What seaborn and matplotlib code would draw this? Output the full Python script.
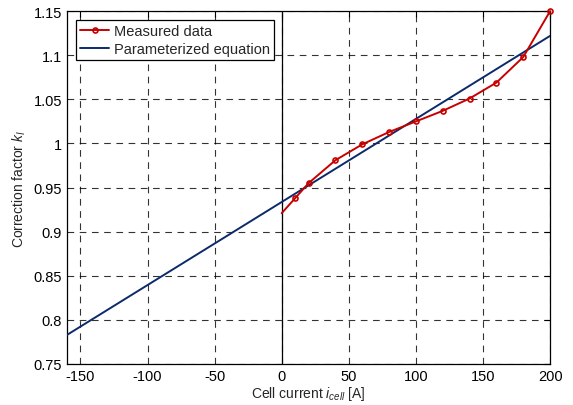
import numpy as np
import pandas as pd
import matplotlib
matplotlib.use("Agg")
import matplotlib.pyplot as plt
import seaborn as sns

# measured correction factor vs cell current
current = [0, 10, 20, 40, 60, 80, 100, 120, 140, 160, 180, 200]
k_meas = [0.921, 0.938, 0.955, 0.981, 0.999, 1.013, 1.025, 1.037, 1.051, 1.069, 1.098, 1.150]

# parameterized equation (straight line, endpoints)
eq_current = [-160, 200]
k_eq = [0.783, 1.122]

x_ticks = [-150, -100, -50, 0, 50, 100, 150, 200]
y_ticks = [0.75, 0.8, 0.85, 0.9, 0.95, 1.0, 1.05, 1.1, 1.15]
y_labels = ["0.75", "0.8", "0.85", "0.9", "0.95", "1", "1.05", "1.1", "1.15"]

sns.set_theme(style="white")
plt.rcParams['font.family'] = ['Liberation Sans', 'DejaVu Sans']
plt.rcParams['axes.unicode_minus'] = False
plt.rcParams['mathtext.fontset'] = 'custom'
plt.rcParams['mathtext.it'] = 'Liberation Sans:italic'
plt.rcParams['mathtext.rm'] = 'Liberation Sans'

fig = plt.figure(figsize=(5.73, 4.06), dpi=100)
ax = fig.add_axes([0.117, 0.101, 0.843, 0.869])

df_meas = pd.DataFrame({"current": current, "k": k_meas})
df_eq = pd.DataFrame({"current": eq_current, "k": k_eq})

red = "#c80000"
sns.lineplot(data=df_meas, x="current", y="k", ax=ax, color=red, lw=1.4,
             marker="o", markersize=3.6, markerfacecolor="none",
             markeredgecolor=red, markeredgewidth=1.2, clip_on=False,
             markevery=list(range(1, len(current))), label="Measured data", zorder=4)
sns.lineplot(data=df_eq, x="current", y="k", ax=ax, color="#0c2a6a", lw=1.4,
             label="Parameterized equation", zorder=3)

ax.axvline(0, color="black", lw=0.9, zorder=2)

ax.set_xlim(-160, 200)
ax.set_ylim(0.75, 1.15)
ax.set_xticks(x_ticks)
ax.set_yticks(y_ticks)
ax.set_yticklabels(y_labels)
ax.grid(True, color="black", ls=(0, (6, 5)), lw=0.8, alpha=0.8)
ax.tick_params(direction="in", length=4, top=True, right=True, labelsize=10.5,
               colors="black", width=0.8)
for s in ax.spines.values():
    s.set_color("black")
    s.set_linewidth(0.9)

ax.set_xlabel("Cell current $i_{cell}$ [A]", fontsize=10, labelpad=1)
ax.set_ylabel("Correction factor $k_I$", fontsize=10, labelpad=4)

leg = ax.legend(loc="upper left", fontsize=10.5, frameon=True, fancybox=False,
                edgecolor="black", framealpha=1, handlelength=2.0,
                borderpad=0.3, labelspacing=0.25, handletextpad=0.3,
                borderaxespad=0.6)
leg.get_frame().set_linewidth(0.9)

fig.savefig("out.png", dpi=100)
